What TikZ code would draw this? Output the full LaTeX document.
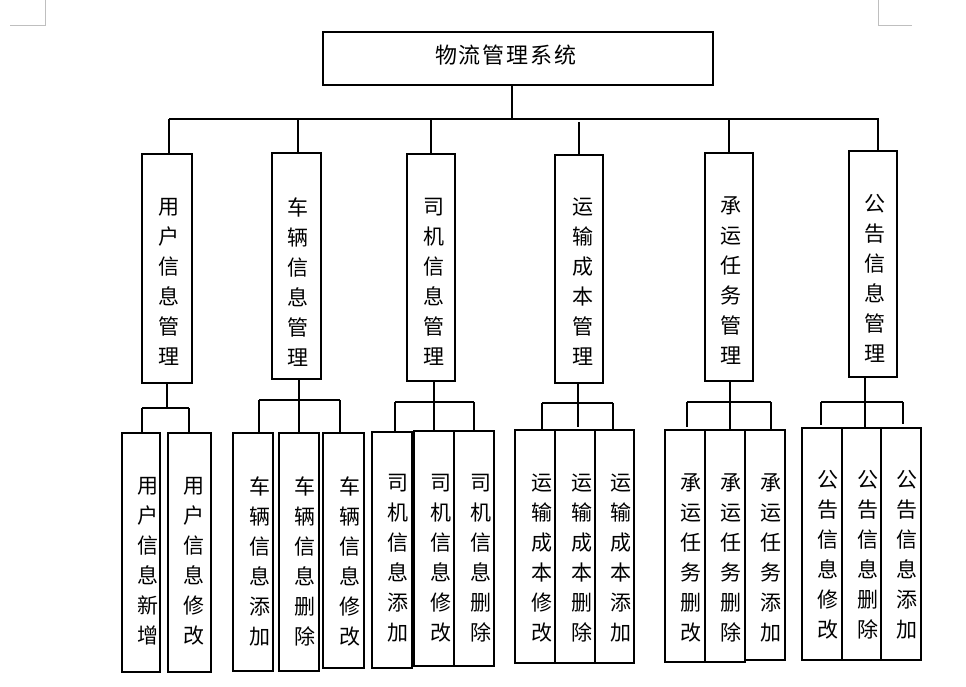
\documentclass[tikz,border=0pt]{standalone}
\usepackage{fontspec}
\newfontfamily\cjk{Noto Sans CJK SC}
\newcommand\mybox[5]{\node[box, minimum width={#4-#2}, minimum height={#5-#3}] (#1) at ({(#2+#4)/2},{(#3+#5)/2}) {};}
\newcommand\mytext[4]{\node[vtext] (#1) at (#2,{#3+75}) {#4};}
\begin{document}
\begin{tikzpicture}[x=1pt,y=-1pt,
  box/.style={draw, line width=1.5pt, inner sep=0pt, outer sep=0pt},
  vtext/.style={inner sep=0pt, align=center, font=\cjk\fontsize{21}{30}\selectfont},
  ttext/.style={inner sep=0pt, font=\cjk\fontsize{22}{26}\selectfont},
  conn/.style={line width=1.6pt},
  cornermark/.style={draw=black!25, line width=0.8pt}
]
\useasboundingbox (0,0) rectangle (966,686);
% corner marks
\draw[cornermark] (45,0) -- (45,25) -- (10,25);
\draw[cornermark] (878,0) -- (878,25) -- (912,25);
% root
\mybox{root}{323}{32}{713}{85}
\node[ttext] (rootT) at (506,55) {物\hspace{2pt}流\hspace{2pt}管\hspace{2pt}理\hspace{2pt}系\hspace{2pt}统};
% level 2
\mybox{u}{142}{154}{192}{383}
\mybox{c}{272}{153}{321}{379}
\mybox{d}{407}{154}{455}{381}
\mybox{t}{555}{155}{603}{383}
\mybox{r}{705}{153}{753}{381}
\mybox{g}{849}{151}{897}{377}
\mytext{uT}{168.5}{206.7}{用\\户\\信\\息\\管\\理}
\mytext{cT}{297.5}{206.7}{车\\辆\\信\\息\\管\\理}
\mytext{dT}{434}{206.7}{司\\机\\信\\息\\管\\理}
\mytext{tT}{582.5}{206.7}{运\\输\\成\\本\\管\\理}
\mytext{rT}{731}{205.5}{承\\运\\任\\务\\管\\理}
\mytext{gT}{875}{203.3}{公\\告\\信\\息\\管\\理}
% level 3
\mybox{u1}{122}{433}{160}{672}
\mybox{u2}{168}{433}{211}{672}
\mybox{c1}{233}{433}{273}{671}
\mybox{c2}{279}{433}{319}{671}
\mybox{c3}{323}{433}{364}{668}
\mybox{d1}{372}{432}{412}{668}
\mybox{d2}{414}{431}{454}{666}
\mybox{d3}{454}{431}{494}{666}
\mybox{t1}{515}{430}{555}{663}
\mybox{t2}{555}{430}{595}{663}
\mybox{t3}{595}{430}{634}{663}
\mybox{r1}{665}{430}{705}{662}
\mybox{r2}{705}{430}{745}{662}
\mybox{r3}{745}{430}{785}{660}
\mybox{g1}{802}{428}{842}{660}
\mybox{g2}{842}{428}{881}{660}
\mybox{g3}{881}{428}{921}{660}
\mytext{u1T}{148}{486.7}{用\\户\\信\\息\\新\\增}
\mytext{u2T}{194}{486.7}{用\\户\\信\\息\\修\\改}
\mytext{c1T}{260}{486.7}{车\\辆\\信\\息\\添\\加}
\mytext{c2T}{305}{486.7}{车\\辆\\信\\息\\删\\除}
\mytext{c3T}{350}{486.7}{车\\辆\\信\\息\\修\\改}
\mytext{d1T}{398.3}{483.3}{司\\机\\信\\息\\添\\加}
\mytext{d2T}{441}{483.3}{司\\机\\信\\息\\修\\改}
\mytext{d3T}{481}{483.3}{司\\机\\信\\息\\删\\除}
\mytext{t1T}{541.7}{483.3}{运\\输\\成\\本\\修\\改}
\mytext{t2T}{581.7}{483.3}{运\\输\\成\\本\\删\\除}
\mytext{t3T}{621}{483.3}{运\\输\\成\\本\\添\\加}
\mytext{r1T}{690.7}{483.3}{承\\运\\任\\务\\删\\改}
\mytext{r2T}{730.7}{483.3}{承\\运\\任\\务\\删\\除}
\mytext{r3T}{771}{483.3}{承\\运\\任\\务\\添\\加}
\mytext{g1T}{828.3}{480}{公\\告\\信\\息\\修\\改}
\mytext{g2T}{868.3}{480}{公\\告\\信\\息\\删\\除}
\mytext{g3T}{906.7}{480}{公\\告\\信\\息\\添\\加}
% root connectors
\coordinate (j0) at (512,119);
\coordinate (bL) at (169,119);
\coordinate (bR) at (879,119);
\draw[conn] (root.south -| j0) -- (j0);
\draw[conn] (bL) -- (bR);
\coordinate (a1) at (169,119);
\coordinate (a2) at (298,119);
\coordinate (a3) at (431,119);
\coordinate (a4) at (579,122);
\coordinate (a5) at (729,119);
\coordinate (a6) at (878,119);
\draw[conn] (a1) -- (a1 |- u.north);
\draw[conn] (a2) -- (a2 |- c.north);
\draw[conn] (a3) -- (a3 |- d.north);
\draw[conn] (a4) -- (a4 |- t.north);
\draw[conn] (a5) -- (a5 |- r.north);
\draw[conn] (a6) -- (a6 |- g.north);
% user group
\coordinate (us) at (167,408);
\coordinate (uL) at (142,408);
\coordinate (uR) at (189,408);
\draw[conn] (u.south -| us) -- (us);
\draw[conn] (uL) -- (uR);
\draw[conn] (uL) -- (uL |- u1.north);
\draw[conn] (uR) -- (uR |- u2.north);
% vehicle group
\coordinate (cs) at (299,400);
\coordinate (cL) at (259,400);
\coordinate (cR) at (340,400);
\draw[conn] (c.south -| cs) -- (cs |- c2.north);
\draw[conn] (cL) -- (cR);
\draw[conn] (cL) -- (cL |- c1.north);
\draw[conn] (cR) -- (cR |- c3.north);
% driver group
\coordinate (ds) at (434,402);
\coordinate (dL) at (395,402);
\coordinate (dR) at (474,402);
\draw[conn] (d.south -| ds) -- (ds |- d2.north);
\draw[conn] (dL) -- (dR);
\draw[conn] (dL) -- (dL |- d1.north);
\draw[conn] (dR) -- (dR |- d3.north);
% cost group
\coordinate (ts) at (578,403);
\coordinate (tL) at (542,403);
\coordinate (tR) at (613,403);
\draw[conn] (t.south -| ts) -- (578,427);
\draw[conn] (tL) -- (tR);
\draw[conn] (tL) -- (tL |- t1.north);
\draw[conn] (tR) -- (tR |- t3.north);
% task group
\coordinate (rs) at (730,402);
\coordinate (rL) at (687,402);
\coordinate (rR) at (771,402);
\draw[conn] (r.south -| rs) -- (rs |- r2.north);
\draw[conn] (rL) -- (rR);
\draw[conn] (rL) -- (687,427);
\draw[conn] (rR) -- (rR |- r3.north);
% notice group
\coordinate (gs) at (865,402);
\coordinate (gL) at (821,402);
\coordinate (gR) at (903,402);
\draw[conn] (g.south -| gs) -- (gs |- g2.north);
\draw[conn] (gL) -- (gR);
\draw[conn] (gL) -- (821,425);
\draw[conn] (gR) -- (903,424);
\end{tikzpicture}
\end{document}
